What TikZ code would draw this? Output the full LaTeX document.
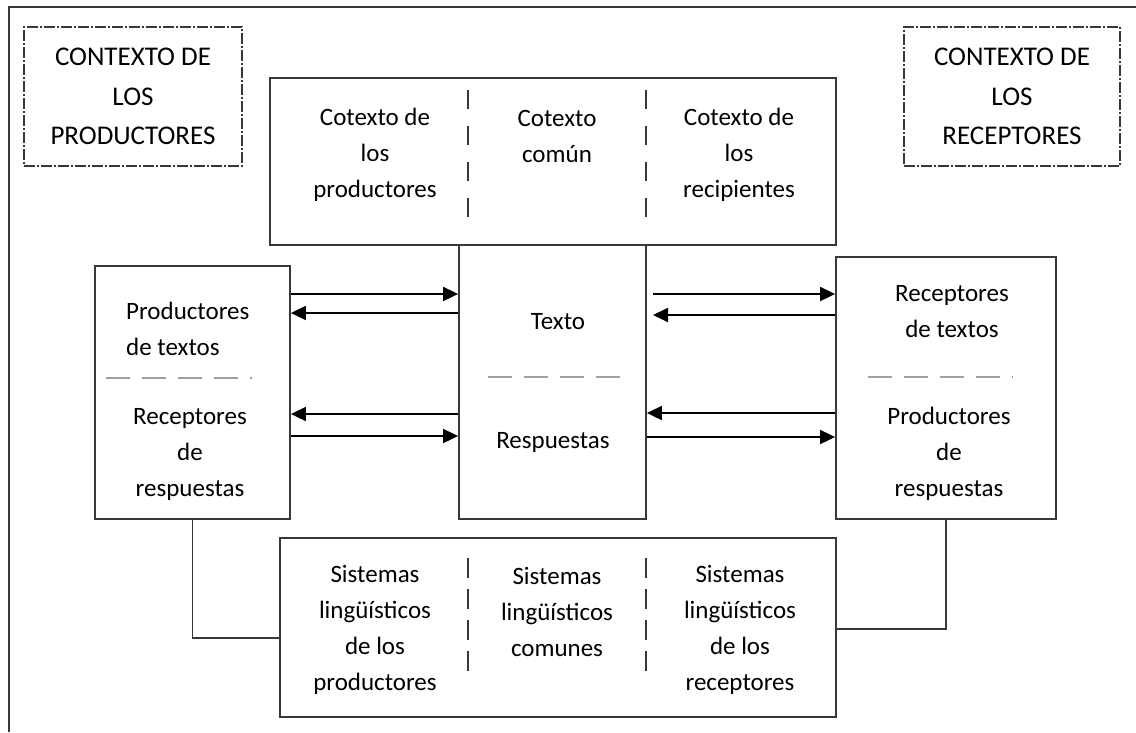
\documentclass[tikz,border=0pt]{standalone}
\usepackage{fontspec}
\setmainfont{Carlito}
\usetikzlibrary{positioning}
\usetikzlibrary{arrows.meta}
\definecolor{linegray}{HTML}{383838}
\definecolor{dashgray}{HTML}{A0A0A0}
\newcommand{\bodyfont}{\fontsize{25}{36}\selectfont}
\newcommand{\ctxfont}{\fontsize{27}{39.5}\selectfont}
\tikzset {
  x=1pt, y=-1pt,
  % plain boxes
  box/.style={draw=linegray, line width=1.8pt, inner sep=0pt},
  % the two context boxes
  ctx/.style={draw=linegray, line width=1.4pt, dash pattern=on 11pt off 2pt on 2pt off 2pt,
    align=center, font=\ctxfont, text=black, inner sep=0pt},
  lbl/.style={align=center, font=\bodyfont, text=black, inner sep=0pt},
  % column separators and the split lines in the side boxes
  divider/.style={linegray, line width=1.7pt, dash pattern=on 19pt off 17pt},
  tightdivider/.style={divider, dash pattern=on 20pt off 11pt},
  split/.style={dashgray, line width=1.7pt, dash pattern=on 24pt off 12pt},
  flow/.style={-{Triangle[length=15pt,width=14pt]}, line width=1.8pt, black},
  link/.style={linegray, line width=1.8pt},
}

\begin{document}
\begin{tikzpicture}
  \useasboundingbox (0,0) rectangle (1136,732);
  \draw[link] (9,732) |- (1136,7);

  \node[ctx, minimum width=218pt, minimum height=139pt] (ctxprod) at (133,96.5)
    {CONTEXTO DE\\LOS\\PRODUCTORES};
  \node[ctx, minimum width=216pt, minimum height=139pt] (ctxrec) at (1012,96.5)
    {CONTEXTO DE\\LOS\\RECEPTORES};

  % boxes
  \node[box, minimum width=566pt, minimum height=167pt] (cotexto) at (553,161.5) {};
  \node[box, minimum width=187pt, minimum height=274pt] (texto) at (552.5,382) {};
  \node[box, minimum width=195pt, minimum height=253pt] (prodbox) at (192.5,392.5) {};
  \node[box, minimum width=220pt, minimum height=262pt] (recbox) at (946,388) {};
  \node[box, minimum width=556pt, minimum height=179pt] (sistemas) at (558,627.5) {};

  % top box
  \node[lbl] (cotprod) at (375,155) {Cotexto de\\los\\productores};
  \node[lbl] (cotcom) at (557,136) {Cotexto\\común};
  \node[lbl] (cotrec) at (739,155) {Cotexto de\\los\\recipientes};
  \foreach \x in {468,646}
    \draw[divider] (\x,90) -- (\x,219);

  % middle
  \node[lbl, align=left, anchor=west] (prodtext) at (126,329) {Productores\\de textos};
  \node[lbl] (recresp) at (190,454) {Receptores\\de\\respuestas};
  \draw[split] (106,378) -- (252,378);

  \node[lbl] (txt) at (558,322) {Texto};
  \node[lbl] (resp) at (553,442) {Respuestas};
  \draw[split] (488,377) -- (627,377);

  \node[lbl] (rectext) at (952,312) {Receptores\\de textos};
  \node[lbl] (prodresp) at (949,454) {Productores\\de\\respuestas};
  \draw[split] (868,377) -- (1013,377);

  % flows
  \draw[flow] (prodbox.east |- 0,294) -- (texto.west |- 0,294);
  \draw[flow] (texto.west |- 0,313) -- (prodbox.east |- 0,313);
  \draw[flow] (texto.west |- 0,414) -- (prodbox.east |- 0,414);
  \draw[flow] (prodbox.east |- 0,436) -- (texto.west |- 0,436);

  \coordinate (gap) at (653,0);
  \draw[flow] (gap |- 0,294) -- (recbox.west |- 0,294);
  \draw[flow] (recbox.west |- 0,315) -- (gap |- 0,315);
  \draw[flow] (recbox.west |- 0,413) -- (texto.east |- 0,413);
  \draw[flow] (texto.east |- 0,437) -- (recbox.west |- 0,437);

  % bottom box
  \node[lbl] (sisprod) at (375,630) {Sistemas\\lingüísticos\\de los\\productores};
  \node[lbl] (siscom) at (557,612) {Sistemas\\lingüísticos\\comunes};
  \node[lbl] (sisrec) at (740,630) {Sistemas\\lingüísticos\\de los\\receptores};
  \foreach \x in {468,646}
    \draw[tightdivider] (\x,558) -- (\x,672);

  \draw[link] (prodbox.south) |- (sistemas.west |- 0,638);
  \draw[link] (recbox.south) |- (sistemas.east |- 0,629);
\end{tikzpicture}
\end{document}
